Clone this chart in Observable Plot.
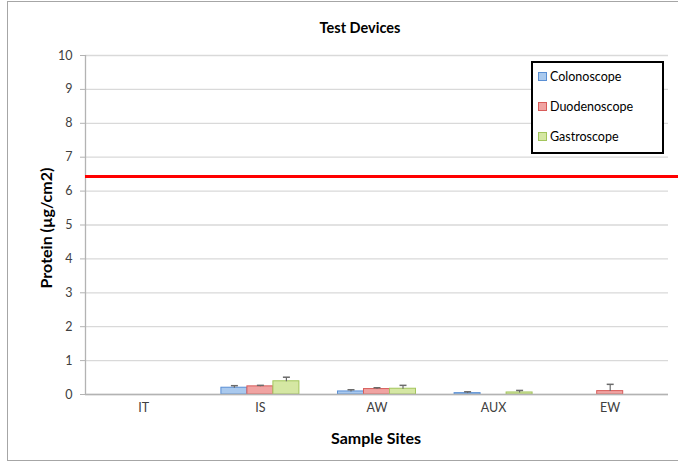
<!DOCTYPE html>
<html>
<head>
<meta charset="utf-8">
<script src="https://cdn.jsdelivr.net/npm/d3@7"></script>
<script src="https://cdn.jsdelivr.net/npm/@observablehq/plot@0.6"></script>
<style>
  html, body { margin: 0; padding: 0; background: #fff; overflow: hidden; }
  #wrap { position: relative; width: 678px; height: 465px; overflow: hidden; font-family: Lato, "Open Sans", sans-serif; }
  #frame { position: absolute; left: 7px; top: 1px; width: 720px; height: 460px; border: 1px solid #a6a6a6; box-sizing: border-box; }
  #chart { position: absolute; left: 0; top: 0; }
  .lbl { position: absolute; font-weight: bold; color: #000; font-size: 15px; white-space: nowrap; }
  #title { left: 360px; top: 27px; transform: translate(-50%, -50%); font-size: 14.5px; }
  #xtitle { left: 376px; top: 437px; transform: translate(-50%, -50%); font-size: 16px; }
  #ytitle { left: 45px; top: 228px; transform: translate(-50%, -50%) rotate(-90deg); font-size: 16px; }
  #legend { position: absolute; left: 531px; top: 61px; width: 133px; height: 93px; border: 2px solid #000; box-sizing: border-box; background: #fff; font-size: 12.5px; color: #000; }
  .item { position: absolute; left: 5px; display: flex; align-items: center; }
  .sw { width: 7px; height: 7px; margin-right: 3px; }
</style>
</head>
<body>
<div id="wrap">
  <div id="frame"></div>
  <div id="chart"></div>
  <div id="title" class="lbl">Test Devices</div>
  <div id="xtitle" class="lbl">Sample Sites</div>
  <div id="ytitle" class="lbl">Protein (µg/cm2)</div>
  <div id="legend"></div>
</div>
<script>
const sites = ["IT", "IS", "AW", "AUX", "EW"];
const devices = ["Colonoscope", "Duodenoscope", "Gastroscope"];
const colonoscope = [0, 0.20, 0.09, 0.04, 0];
const duodenoscope = [0, 0.24, 0.16, 0, 0.10];
const gastroscope = [0, 0.39, 0.17, 0.06, 0];
const colonoscopeErr = [0, 0.06, 0.05, 0.04, 0];
const duodenoscopeErr = [0, 0.03, 0.04, 0, 0.20];
const gastroscopeErr = [0, 0.12, 0.10, 0.06, 0];
const threshold = 6.43;
const yTicks = [0, 1, 2, 3, 4, 5, 6, 7, 8, 9, 10];

const fills = ["#a9c9ee", "#f0a3a2", "#d5e7a3"];
const strokes = ["#5a8fd4", "#d85c5a", "#a3c55c"];

const seriesVals = [colonoscope, duodenoscope, gastroscope];
const seriesErr = [colonoscopeErr, duodenoscopeErr, gastroscopeErr];

const barW = 0.223; // fraction of a category step
const rows = [];
devices.forEach((dev, j) => {
  sites.forEach((site, i) => {
    const x1 = i - 1.5 * barW + j * barW;
    rows.push({site, i, device: dev, j, value: seriesVals[j][i], err: seriesErr[j][i], x1, x2: x1 + barW, xc: x1 + barW / 2});
  });
});
const nonZero = rows.filter(d => d.value > 0);

const plot = Plot.plot({
  width: 678,
  height: 465,
  marginLeft: 85,
  marginRight: 10,
  marginTop: 55,
  marginBottom: 71,
  style: {fontFamily: "Lato, 'Open Sans', sans-serif", background: "transparent"},
  x: {type: "linear", domain: [-0.5, sites.length - 0.5]},
  y: {type: "linear", domain: [0, 10]},
  marks: [
    Plot.gridY({ticks: yTicks, stroke: "#d9d9d9", strokeOpacity: 1, strokeWidth: 1.3}),
    Plot.rectY(nonZero, {
      x1: "x1", x2: "x2", y1: 0, y2: "value",
      fill: d => fills[d.j], stroke: d => strokes[d.j], strokeWidth: 1
    }),
    Plot.link(nonZero, {x1: "xc", x2: "xc", y1: "value", y2: d => d.value + d.err, stroke: "#6b6b6b", strokeWidth: 1.2}),
    Plot.link(nonZero, {x1: d => d.xc - 0.03, x2: d => d.xc + 0.03, y1: d => d.value + d.err, y2: d => d.value + d.err, stroke: "#6b6b6b", strokeWidth: 1.5}),
    Plot.ruleY([0], {stroke: "#b3b3b3", strokeWidth: 1.3}),
    Plot.ruleX([-0.5], {stroke: "#b3b3b3", strokeWidth: 1.3}),
    Plot.ruleY([threshold], {stroke: "#ff0000", strokeWidth: 3, insetRight: -10}),
    Plot.axisY({ticks: yTicks, tickSize: 5, tickPadding: 8, stroke: "#b3b3b3", color: "#404040", fontSize: 12.5, label: null}),
    Plot.axisX({ticks: d3.range(sites.length), tickSize: 0, tickPadding: 9, tickFormat: i => sites[i], color: "#404040", fontSize: 12.5, label: null})
  ]
});
document.getElementById("chart").appendChild(plot);

const legend = document.getElementById("legend");
const tops = [15, 45, 75];
devices.forEach((dev, j) => {
  const it = document.createElement("div");
  it.className = "item";
  it.style.top = (tops[j] - 9) + "px";
  it.innerHTML = `<span class="sw" style="background:${fills[j]};border:1px solid ${strokes[j]}"></span><span>${dev}</span>`;
  legend.appendChild(it);
});
</script>
</body>
</html>
